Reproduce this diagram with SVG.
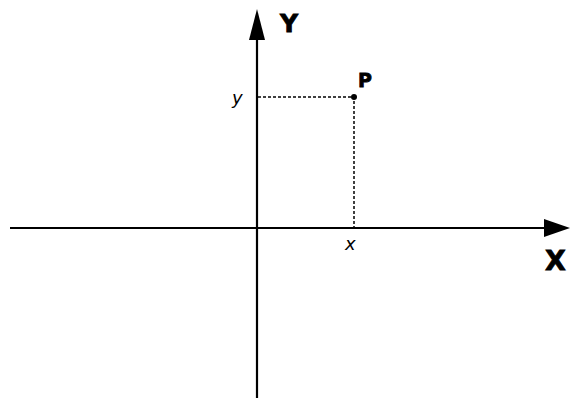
<svg xmlns="http://www.w3.org/2000/svg" width="571" height="398" viewBox="0 0 571 398">
<style>
.axis{stroke:#000;stroke-width:2.2;fill:none}
.dash{stroke:#000;stroke-width:1.5;stroke-dasharray:3 2;fill:none}
.bold{font-family:"DejaVu Sans",sans-serif;font-weight:bold;fill:#000;stroke:#000;stroke-width:0.8}
.ital{font-family:"DejaVu Sans",sans-serif;font-style:italic;fill:#000;font-size:18px}
</style>
<rect width="571" height="398" fill="#fff"/>
<g id="connectors">
<line class="axis" x1="10" y1="228" x2="546" y2="228"/>
<polygon points="570,228 544,219 544,237" fill="#000"/>
<line class="axis" x1="257" y1="398" x2="257" y2="36"/>
<polygon points="257,9 249,40 265,40" fill="#000"/>
<polyline class="dash" points="258,97 354,97 354,228"/>
</g>
<g id="P">
<circle cx="354" cy="97" r="3" fill="#000"/>
<text class="bold" x="358" y="87" font-size="19">P</text>
</g>
<g id="labels">
<text class="bold" x="280" y="32" font-size="25">Y</text>
<text class="bold" x="545" y="270" font-size="27">X</text>
<text class="ital" x="232" y="104">y</text>
<text class="ital" x="345" y="250">x</text>
</g>
</svg>
